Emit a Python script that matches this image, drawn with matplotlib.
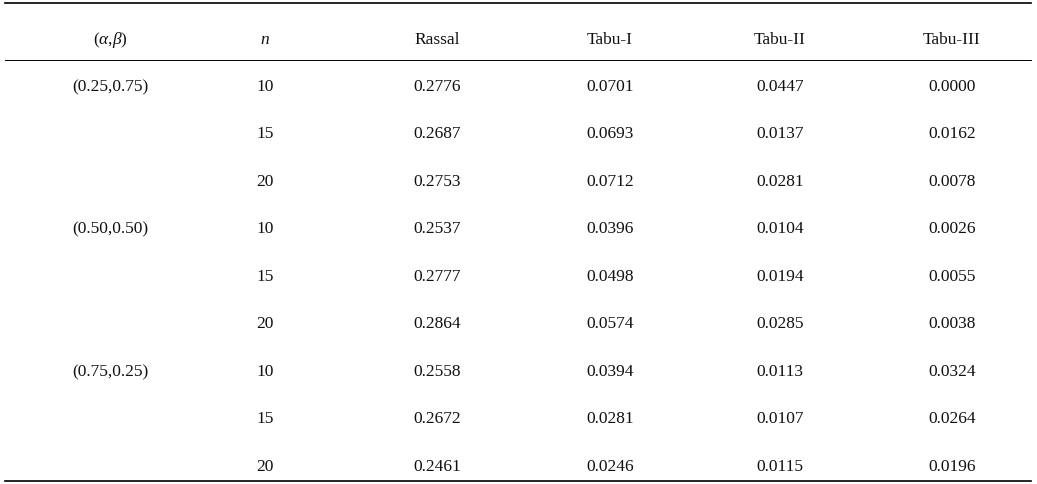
import matplotlib
matplotlib.use("Agg")
import matplotlib.pyplot as plt

headers = [r"$(\alpha{,}\beta)$", r"$n$", "Rassal", "Tabu-I", "Tabu-II", "Tabu-III"]
groups = ["(0.25,0.75)", "", "", "(0.50,0.50)", "", "", "(0.75,0.25)", "", ""]
ns = ["10", "15", "20"] * 3
rassal = ["0.2776", "0.2687", "0.2753", "0.2537", "0.2777", "0.2864", "0.2558", "0.2672", "0.2461"]
tabu1 = ["0.0701", "0.0693", "0.0712", "0.0396", "0.0498", "0.0574", "0.0394", "0.0281", "0.0246"]
tabu2 = ["0.0447", "0.0137", "0.0281", "0.0104", "0.0194", "0.0285", "0.0113", "0.0107", "0.0115"]
tabu3 = ["0.0000", "0.0162", "0.0078", "0.0026", "0.0055", "0.0038", "0.0324", "0.0264", "0.0196"]

plt.rcParams['mathtext.fontset'] = 'custom'
plt.rcParams['mathtext.rm'] = 'Liberation Serif'
plt.rcParams['mathtext.it'] = 'Liberation Serif:italic'
W, H = 1037, 485
fig = plt.figure(figsize=(W/100, H/100), dpi=100)
ax = fig.add_axes([0, 0, 1, 1])
ax.set_xlim(0, W); ax.set_ylim(H, 0); ax.axis('off')

xs = [110, 265, 437, 610, 780, 952]
fs = 12.5
font = dict(family="Liberation Serif", fontsize=fs, ha='center', va='center', color='#111111')
for x, h in zip(xs, headers):
    ax.text(x, 40, h, **font)
cols = [groups, ns, rassal, tabu1, tabu2, tabu3]
y0, dy = 87, 47.5
for i in range(9):
    for x, c in zip(xs, cols):
        if c[i]:
            ax.text(x, y0 + i*dy, c[i], **font)

ax.plot([5, 1031], [4, 4], color='black', lw=1.2)
ax.plot([5, 1031], [61, 61], color='black', lw=0.7)
ax.plot([5, 1031], [482, 482], color='black', lw=1.2)
fig.savefig("out.png", dpi=100)
